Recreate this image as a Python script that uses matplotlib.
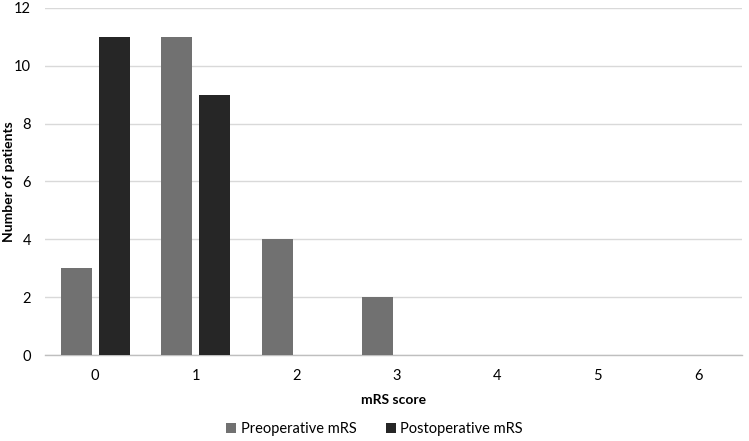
import matplotlib
matplotlib.use("Agg")
import matplotlib.pyplot as plt
import numpy as np

plt.rcParams['font.family'] = ['Lato', 'DejaVu Sans']

categories = ['0', '1', '2', '3', '4', '5', '6']
pre = [3, 11, 4, 2, 0, 0, 0]
post = [11, 9, 0, 0, 0, 0, 0]
yticks = [0, 2, 4, 6, 8, 10, 12]

fig = plt.figure(figsize=(7.49, 4.41), dpi=100)
ax = fig.add_axes([0.060, 0.195, 0.93, 0.787])

x = np.arange(len(categories))
w = 0.31
ax.bar(x - 0.19, pre, width=w, color='#717171', label='Preoperative mRS', zorder=3)
ax.bar(x + 0.19, post, width=w, color='#262626', label='Postoperative mRS', zorder=3)

ax.set_xlim(-0.5, 6.43)
ax.set_ylim(0, 12)
ax.set_yticks(yticks)
ax.set_xticks(x)
ax.set_xticklabels(categories)
ax.yaxis.grid(True, color='#d9d9d9', linewidth=1, zorder=0)
for s in ['top', 'right', 'left']:
    ax.spines[s].set_visible(False)
ax.spines['bottom'].set_color('#bfbfbf')
ax.spines['bottom'].set_linewidth(1)
ax.tick_params(axis='both', length=0, labelsize=10.5, colors='#000000')
ax.tick_params(axis='x', pad=10)
ax.tick_params(axis='y', pad=10)

ax.set_xlabel('mRS score', fontsize=10, fontweight='bold', labelpad=8)
ax.set_ylabel('Number of patients', fontsize=10, fontweight='bold', va='center')
ax.yaxis.set_label_coords(-0.052, 0.5)

leg = fig.legend(loc='lower center', bbox_to_anchor=(0.5, -0.018), ncol=2, frameon=False,
                 fontsize=10.5, handlelength=0.7, handleheight=0.7, handletextpad=0.3,
                 columnspacing=2.0)

fig.savefig('out.png', dpi=100)
